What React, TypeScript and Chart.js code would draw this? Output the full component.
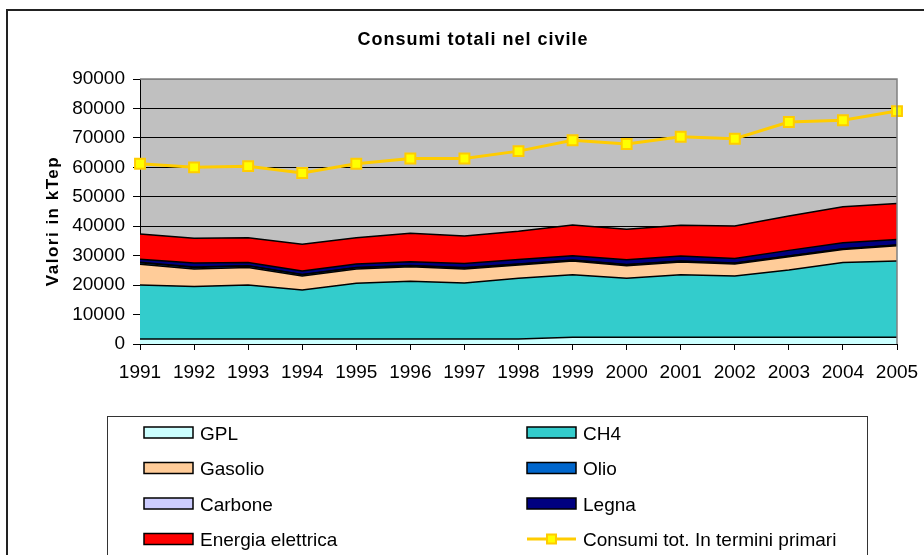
import React, { useEffect, useRef } from "react";
import { Chart, registerables } from "chart.js";

Chart.register(...registerables);

// Anni
const years = ["1991", "1992", "1993", "1994", "1995", "1996", "1997", "1998", "1999", "2000", "2001", "2002", "2003", "2004", "2005"];

// Consumi per fonte nel settore civile (kTep)
const gpl = [1700, 1700, 1700, 1700, 1700, 1700, 1700, 1700, 2300, 2300, 2300, 2300, 2300, 2300, 2300];
const ch4 = [18300, 17800, 18300, 16600, 18900, 19600, 19000, 20600, 21250, 20000, 21250, 20800, 22800, 25400, 25900];
const gasolio = [7100, 6000, 6000, 4800, 4900, 4900, 4800, 4500, 4600, 4300, 4300, 4100, 4500, 4400, 5200];
const olio = [500, 500, 450, 400, 400, 350, 350, 300, 300, 300, 250, 250, 250, 200, 200];
const carbone = [150, 150, 120, 120, 100, 100, 100, 100, 80, 80, 80, 60, 60, 60, 60];
const legna = [1050, 1350, 1130, 1180, 1200, 1250, 1350, 1500, 1420, 1620, 1670, 1490, 1890, 2040, 1840];
const energiaElettrica = [8600, 8400, 8400, 9100, 8900, 9700, 9400, 9600, 10500, 10400, 10500, 11100, 11700, 12200, 12200];

// Consumi totali in termini di energia primaria (kTep)
const consumiPrimari = [61200, 60000, 60400, 58100, 61200, 63000, 63000, 65500, 69200, 67900, 70400, 69700, 75400, 76000, 79100];

// Asse Y
const yMin = 0;
const yMax = 90000;
const yStep = 10000;

const FONT = '"Liberation Sans", Arial, Helvetica, sans-serif';

const areaSeries = [
  { label: "GPL", data: gpl, color: "#CCFFFF" },
  { label: "CH4", data: ch4, color: "#33CCCC" },
  { label: "Gasolio", data: gasolio, color: "#FFCC99" },
  { label: "Olio", data: olio, color: "#0066CC" },
  { label: "Carbone", data: carbone, color: "#CCCCFF" },
  { label: "Legna", data: legna, color: "#000080" },
  { label: "Energia elettrica", data: energiaElettrica, color: "#FF0000" },
];

const decorPlugin = {
  id: "decor",
  beforeDraw(chart: any) {
    const { ctx, chartArea } = chart;
    ctx.save();
    ctx.fillStyle = "#FFFFFF";
    ctx.fillRect(0, 0, chart.width, chart.height);
    ctx.fillStyle = "#C0C0C0";
    ctx.fillRect(chartArea.left, chartArea.top, chartArea.right - chartArea.left, chartArea.bottom - chartArea.top);
    ctx.restore();
  },
  afterDraw(chart: any) {
    const { ctx, chartArea } = chart;
    ctx.save();

    // bordo superiore e destro dell'area del grafico
    ctx.strokeStyle = "#808080";
    ctx.lineWidth = 1.5;
    ctx.beginPath();
    ctx.moveTo(chartArea.left, chartArea.top);
    ctx.lineTo(chartArea.right, chartArea.top);
    ctx.lineTo(chartArea.right, chartArea.bottom);
    ctx.stroke();

    // cornice esterna
    ctx.strokeStyle = "#222222";
    ctx.lineWidth = 2;
    ctx.strokeRect(7, 10, 1200, 1200);

    // titolo
    ctx.fillStyle = "#000000";
    ctx.font = `bold 18px ${FONT}`;
    (ctx as any).letterSpacing = "1px";
    ctx.textAlign = "center";
    ctx.textBaseline = "alphabetic";
    ctx.fillText("Consumi totali nel civile", 473, 45);

    // titolo asse Y
    ctx.save();
    ctx.font = `bold 17px ${FONT}`;
    (ctx as any).letterSpacing = "1.5px";
    ctx.translate(58, 221);
    ctx.rotate(-Math.PI / 2);
    ctx.fillText("Valori in kTep", 0, 0);
    ctx.restore();

    // legenda
    ctx.strokeStyle = "#333333";
    ctx.lineWidth = 1;
    ctx.strokeRect(107.5, 416.5, 760, 400);

    const colX = [144, 527];
    const rowY = [432.5, 468, 503.5, 539];
    ctx.font = `19px ${FONT}`;
    (ctx as any).letterSpacing = "0px";
    ctx.textAlign = "left";
    ctx.textBaseline = "alphabetic";
    chart.data.datasets.forEach((ds: any, i: number) => {
      const x = colX[i % 2];
      const y = rowY[Math.floor(i / 2)];
      if (ds.fill === false) {
        ctx.strokeStyle = ds.borderColor;
        ctx.lineWidth = 3;
        ctx.beginPath();
        ctx.moveTo(x, y);
        ctx.lineTo(x + 49, y);
        ctx.stroke();
        ctx.fillStyle = ds.pointBackgroundColor;
        ctx.strokeStyle = ds.pointBorderColor;
        ctx.lineWidth = 2;
        ctx.fillRect(x + 20, y - 4.5, 9, 9);
        ctx.strokeRect(x + 20, y - 4.5, 9, 9);
      } else {
        ctx.fillStyle = ds.backgroundColor;
        ctx.fillRect(x, y - 5.5, 49, 11);
        ctx.strokeStyle = "#000000";
        ctx.lineWidth = 1.5;
        ctx.strokeRect(x, y - 5.5, 49, 11);
      }
      ctx.fillStyle = "#000000";
      ctx.fillText(ds.label, x + 56, y + 7);
    });

    ctx.restore();
  },
};

export default function App() {
  const canvasRef = useRef<HTMLCanvasElement | null>(null);

  useEffect(() => {
    const canvas = canvasRef.current;
    if (!canvas) return;

    const datasets: any[] = areaSeries.map((s, i) => ({
      label: s.label,
      data: s.data,
      backgroundColor: s.color,
      borderColor: "#000000",
      borderWidth: 1.5,
      fill: i === 0 ? "origin" : "-1",
      pointRadius: 0,
      pointHoverRadius: 0,
      tension: 0,
      stack: "civile",
      order: 1,
    }));

    datasets.push({
      label: "Consumi tot. In termini primari",
      data: consumiPrimari,
      borderColor: "#FFCC00",
      borderWidth: 3,
      fill: false,
      pointStyle: "rect",
      pointRadius: 7,
      pointBackgroundColor: "#FFFF00",
      pointBorderColor: "#FFCC00",
      pointBorderWidth: 2,
      tension: 0,
      stack: "totale",
      order: 0,
    });

    const chart = new Chart(canvas, {
      type: "line",
      data: { labels: years, datasets },
      options: {
        responsive: false,
        animation: false,
        devicePixelRatio: 1,
        layout: { padding: { top: 79, right: 27, left: 0, bottom: 161 } },
        plugins: {
          legend: { display: false },
          title: { display: false },
          tooltip: { enabled: false },
        },
        scales: {
          x: {
            type: "category",
            offset: false,
            grid: {
              display: true,
              drawOnChartArea: false,
              drawTicks: true,
              tickLength: 6,
              color: "#000000",
              tickColor: "#000000",
            },
            border: { display: true, color: "#000000", width: 1 },
            ticks: {
              color: "#000000",
              font: { family: FONT, size: 19 },
              padding: 11,
              maxRotation: 0,
              autoSkip: false,
            },
            afterFit: (scale: any) => {
              scale.height = 50;
              scale.paddingLeft = 0;
              scale.paddingRight = 0;
            },
          },
          y: {
            stacked: true,
            min: yMin,
            max: yMax,
            grid: {
              color: (c: any) => (c.tick && c.tick.value === yMax ? "#808080" : "#000000"),
              tickColor: "#000000",
              tickLength: 7,
              lineWidth: 1,
            },
            border: { display: true, color: "#000000", width: 1 },
            ticks: {
              stepSize: yStep,
              color: "#000000",
              font: { family: FONT, size: 19 },
              padding: 8,
              callback: (v: any) => String(v),
            },
            afterFit: (scale: any) => {
              scale.width = 140;
              scale.paddingTop = 0;
              scale.paddingBottom = 0;
            },
          },
        },
      } as any,
      plugins: [decorPlugin],
    });

    return () => {
      chart.destroy();
    };
  }, []);

  return (
    <div style={{ position: "fixed", left: 0, top: 0, width: 924, height: 555, background: "#FFFFFF" }}>
      <canvas ref={canvasRef} width={924} height={555} style={{ display: "block", width: 924, height: 555 }} />
    </div>
  );
}
